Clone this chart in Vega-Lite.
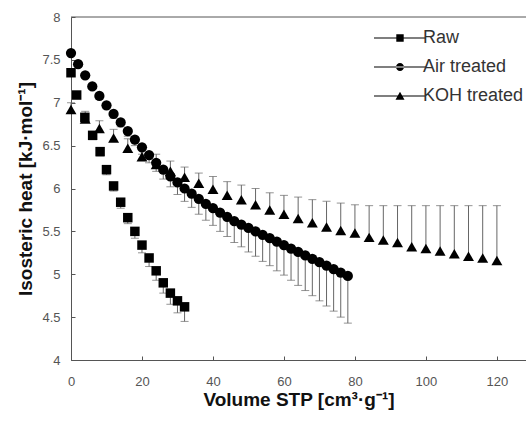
{
  "$schema": "https://vega.github.io/schema/vega-lite/v6.json",
  "width": 455,
  "height": 343,
  "autosize": {"type": "none"},
  "padding": {"left": 71, "top": 17, "right": 0, "bottom": 61},
  "config": {
    "view": {"stroke": null},
    "axis": {
      "grid": false,
      "domainColor": "#555",
      "tickColor": "#555",
      "labelColor": "#555",
      "labelFont": "Liberation Sans",
      "labelFontSize": 13,
      "titleFont": "Liberation Sans",
      "titleFontWeight": "bold",
      "titleColor": "#111",
      "labelFlush": false,
      "labelOverlap": false
    },
    "legend": {
      "labelFont": "Liberation Sans",
      "labelFontSize": 18,
      "labelColor": "#333"
    }
  },
  "datasets": {
    "d": [
      {"s": "Raw", "x": 0, "y": 7.35, "e": 7.32},
      {"s": "Raw", "x": 1.6, "y": 7.09, "e": 7.05},
      {"s": "Raw", "x": 3.9, "y": 6.83, "e": 6.79},
      {"s": "Raw", "x": 6.1, "y": 6.62, "e": 6.57},
      {"s": "Raw", "x": 8.2, "y": 6.43, "e": 6.38},
      {"s": "Raw", "x": 10, "y": 6.22, "e": 6.16},
      {"s": "Raw", "x": 12, "y": 6.03, "e": 5.97},
      {"s": "Raw", "x": 14, "y": 5.84, "e": 5.77},
      {"s": "Raw", "x": 16, "y": 5.66, "e": 5.59},
      {"s": "Raw", "x": 18, "y": 5.50, "e": 5.42},
      {"s": "Raw", "x": 20, "y": 5.34, "e": 5.25},
      {"s": "Raw", "x": 22, "y": 5.19, "e": 5.09},
      {"s": "Raw", "x": 24, "y": 5.04, "e": 4.93},
      {"s": "Raw", "x": 26, "y": 4.90, "e": 4.78},
      {"s": "Raw", "x": 28, "y": 4.78, "e": 4.65},
      {"s": "Raw", "x": 30, "y": 4.69, "e": 4.55},
      {"s": "Raw", "x": 32, "y": 4.62, "e": 4.45},
      {"s": "Air treated", "x": 0, "y": 7.58, "e": 7.56},
      {"s": "Air treated", "x": 2, "y": 7.45, "e": 7.43},
      {"s": "Air treated", "x": 4, "y": 7.32, "e": 7.29},
      {"s": "Air treated", "x": 6, "y": 7.19, "e": 7.16},
      {"s": "Air treated", "x": 8, "y": 7.08, "e": 7.04},
      {"s": "Air treated", "x": 10, "y": 6.97, "e": 6.93},
      {"s": "Air treated", "x": 12, "y": 6.87, "e": 6.82},
      {"s": "Air treated", "x": 14, "y": 6.77, "e": 6.72},
      {"s": "Air treated", "x": 16, "y": 6.67, "e": 6.61},
      {"s": "Air treated", "x": 18, "y": 6.57, "e": 6.50},
      {"s": "Air treated", "x": 20, "y": 6.48, "e": 6.40},
      {"s": "Air treated", "x": 22, "y": 6.39, "e": 6.30},
      {"s": "Air treated", "x": 24, "y": 6.30, "e": 6.20},
      {"s": "Air treated", "x": 26, "y": 6.22, "e": 6.11},
      {"s": "Air treated", "x": 28, "y": 6.14, "e": 6.02},
      {"s": "Air treated", "x": 30, "y": 6.07, "e": 5.93},
      {"s": "Air treated", "x": 32, "y": 6.00, "e": 5.85},
      {"s": "Air treated", "x": 34, "y": 5.94, "e": 5.78},
      {"s": "Air treated", "x": 36, "y": 5.88, "e": 5.70},
      {"s": "Air treated", "x": 38, "y": 5.82, "e": 5.63},
      {"s": "Air treated", "x": 40, "y": 5.77, "e": 5.57},
      {"s": "Air treated", "x": 42, "y": 5.72, "e": 5.50},
      {"s": "Air treated", "x": 44, "y": 5.67, "e": 5.44},
      {"s": "Air treated", "x": 46, "y": 5.62, "e": 5.37},
      {"s": "Air treated", "x": 48, "y": 5.58, "e": 5.32},
      {"s": "Air treated", "x": 50, "y": 5.54, "e": 5.26},
      {"s": "Air treated", "x": 52, "y": 5.50, "e": 5.21},
      {"s": "Air treated", "x": 54, "y": 5.46, "e": 5.15},
      {"s": "Air treated", "x": 56, "y": 5.42, "e": 5.10},
      {"s": "Air treated", "x": 58, "y": 5.38, "e": 5.04},
      {"s": "Air treated", "x": 60, "y": 5.34, "e": 4.99},
      {"s": "Air treated", "x": 62, "y": 5.30, "e": 4.93},
      {"s": "Air treated", "x": 64, "y": 5.26, "e": 4.87},
      {"s": "Air treated", "x": 66, "y": 5.22, "e": 4.81},
      {"s": "Air treated", "x": 68, "y": 5.18, "e": 4.75},
      {"s": "Air treated", "x": 70, "y": 5.14, "e": 4.69},
      {"s": "Air treated", "x": 72, "y": 5.10, "e": 4.63},
      {"s": "Air treated", "x": 74, "y": 5.06, "e": 4.57},
      {"s": "Air treated", "x": 76, "y": 5.02, "e": 4.50},
      {"s": "Air treated", "x": 78, "y": 4.98, "e": 4.43},
      {"s": "KOH treated", "x": 0, "y": 6.92, "e": 7.00},
      {"s": "KOH treated", "x": 4, "y": 6.81, "e": 6.90},
      {"s": "KOH treated", "x": 8, "y": 6.70, "e": 6.79},
      {"s": "KOH treated", "x": 12, "y": 6.59, "e": 6.69},
      {"s": "KOH treated", "x": 16, "y": 6.47, "e": 6.58},
      {"s": "KOH treated", "x": 20, "y": 6.37, "e": 6.48},
      {"s": "KOH treated", "x": 24, "y": 6.28, "e": 6.40},
      {"s": "KOH treated", "x": 28, "y": 6.20, "e": 6.32},
      {"s": "KOH treated", "x": 32, "y": 6.13, "e": 6.25},
      {"s": "KOH treated", "x": 36, "y": 6.06, "e": 6.18},
      {"s": "KOH treated", "x": 40, "y": 5.99, "e": 6.14},
      {"s": "KOH treated", "x": 44, "y": 5.92, "e": 6.08},
      {"s": "KOH treated", "x": 48, "y": 5.87, "e": 6.04},
      {"s": "KOH treated", "x": 52, "y": 5.81, "e": 6.00},
      {"s": "KOH treated", "x": 56, "y": 5.75, "e": 5.95},
      {"s": "KOH treated", "x": 60, "y": 5.70, "e": 5.92},
      {"s": "KOH treated", "x": 64, "y": 5.65, "e": 5.90},
      {"s": "KOH treated", "x": 68, "y": 5.60, "e": 5.87},
      {"s": "KOH treated", "x": 72, "y": 5.55, "e": 5.85},
      {"s": "KOH treated", "x": 76, "y": 5.51, "e": 5.83},
      {"s": "KOH treated", "x": 80, "y": 5.48, "e": 5.81},
      {"s": "KOH treated", "x": 84, "y": 5.43, "e": 5.80},
      {"s": "KOH treated", "x": 88, "y": 5.40, "e": 5.80},
      {"s": "KOH treated", "x": 92, "y": 5.37, "e": 5.80},
      {"s": "KOH treated", "x": 96, "y": 5.32, "e": 5.80},
      {"s": "KOH treated", "x": 100, "y": 5.30, "e": 5.80},
      {"s": "KOH treated", "x": 104, "y": 5.27, "e": 5.80},
      {"s": "KOH treated", "x": 108, "y": 5.24, "e": 5.80},
      {"s": "KOH treated", "x": 112, "y": 5.21, "e": 5.80},
      {"s": "KOH treated", "x": 116, "y": 5.19, "e": 5.80},
      {"s": "KOH treated", "x": 120, "y": 5.16, "e": 5.80}
    ]
  },
  "data": {"name": "d"},
  "layer": [
    {
      "mark": {"type": "rule", "color": "#666", "strokeWidth": 1},
      "encoding": {
        "x": {"field": "x", "type": "quantitative", "scale": {"domain": [0, 128.2], "nice": false},
          "axis": {"values": [0, 20, 40, 60, 80, 100, 120], "format": "d", "tickSize": -4, "labelPadding": 19, "title": "Volume STP [cm³·g⁻¹]", "titleFontSize": 19, "titlePadding": 2}},
        "y": {"field": "y", "type": "quantitative", "scale": {"domain": [4, 8], "nice": false},
          "axis": {"values": [4, 4.5, 5, 5.5, 6, 6.5, 7, 7.5, 8], "format": "~r", "tickSize": -4, "labelPadding": 15, "title": "Isosteric heat [kJ·mol⁻¹]", "titleFontSize": 19, "titlePadding": 6}},
        "y2": {"field": "e"}
      }
    },
    {
      "mark": {"type": "tick", "orient": "horizontal", "color": "#666", "size": 8, "thickness": 1},
      "encoding": {
        "x": {"field": "x", "type": "quantitative", "scale": {"domain": [0, 128.2], "nice": false},
          "axis": {"values": [0, 20, 40, 60, 80, 100, 120], "format": "d", "tickSize": -4, "labelPadding": 19, "title": "Volume STP [cm³·g⁻¹]", "titleFontSize": 19, "titlePadding": 2}},
        "y": {"field": "e", "type": "quantitative", "scale": {"domain": [4, 8], "nice": false},
          "axis": {"values": [4, 4.5, 5, 5.5, 6, 6.5, 7, 7.5, 8], "format": "~r", "tickSize": -4, "labelPadding": 15, "title": "Isosteric heat [kJ·mol⁻¹]", "titleFontSize": 19, "titlePadding": 6}}
      }
    },
    {
      "mark": {"type": "point", "filled": true, "color": "black", "opacity": 1, "strokeWidth": 0},
      "encoding": {
        "x": {"field": "x", "type": "quantitative", "scale": {"domain": [0, 128.2], "nice": false},
          "axis": {"values": [0, 20, 40, 60, 80, 100, 120], "format": "d", "tickSize": -4, "labelPadding": 19, "title": "Volume STP [cm³·g⁻¹]", "titleFontSize": 19, "titlePadding": 2}},
        "y": {"field": "y", "type": "quantitative", "scale": {"domain": [4, 8], "nice": false},
          "axis": {"values": [4, 4.5, 5, 5.5, 6, 6.5, 7, 7.5, 8], "format": "~r", "tickSize": -4, "labelPadding": 15, "title": "Isosteric heat [kJ·mol⁻¹]", "titleFontSize": 19, "titlePadding": 6}},
        "shape": {
          "field": "s", "type": "nominal",
          "scale": {"domain": ["Raw", "Air treated", "KOH treated"], "range": ["square", "circle", "triangle-up"]},
          "legend": null
        },
        "size": {
          "field": "s", "type": "nominal",
          "scale": {"domain": ["Raw", "Air treated", "KOH treated"], "range": [90, 120, 140]},
          "legend": null
        }
      }
    },
    {
      "mark": {"type": "point", "filled": true, "color": "black", "opacity": 0},
      "encoding": {
        "x": {"field": "x", "type": "quantitative", "scale": {"domain": [0, 128.2], "nice": false},
          "axis": {"values": [0, 20, 40, 60, 80, 100, 120], "format": "d", "tickSize": -4, "labelPadding": 19, "title": "Volume STP [cm³·g⁻¹]", "titleFontSize": 19, "titlePadding": 2}},
        "y": {"field": "y", "type": "quantitative", "scale": {"domain": [4, 8], "nice": false},
          "axis": {"values": [4, 4.5, 5, 5.5, 6, 6.5, 7, 7.5, 8], "format": "~r", "tickSize": -4, "labelPadding": 15, "title": "Isosteric heat [kJ·mol⁻¹]", "titleFontSize": 19, "titlePadding": 6}},
        "shape": {
          "field": "s", "type": "nominal",
          "scale": {
            "domain": ["Raw", "Air treated", "KOH treated"],
            "range": [
              "M-9.4,-0.12H1V0.12H-9.4Z M-4.94,-0.74H-3.46V0.74H-4.94Z",
              "M-9.4,-0.12H1V0.12H-9.4Z M-5,0A0.8,0.8 0 1,0 -3.4,0A0.8,0.8 0 1,0 -5,0Z",
              "M-9.4,-0.12H1V0.12H-9.4Z M-4.2,-0.85L-3.3,0.75H-5.1Z"
            ]
          },
          "legend": {
            "title": null,
            "orient": "none",
            "legendX": 341,
            "legendY": 12,
            "padding": 0,
            "symbolSize": 100,
            "symbolOpacity": 1,
            "symbolStrokeWidth": 0,
            "symbolFillColor": "black",
            "labelOffset": -7,
            "rowPadding": 11
          }
        }
      }
    },
    {
      "data": {"values": [{"top": 8}]},
      "mark": {"type": "rule", "color": "#555", "strokeWidth": 1},
      "encoding": {
        "y": {"field": "top", "type": "quantitative", "scale": {"domain": [4, 8], "nice": false},
          "axis": {"values": [4, 4.5, 5, 5.5, 6, 6.5, 7, 7.5, 8], "format": "~r", "tickSize": -4, "labelPadding": 15, "title": "Isosteric heat [kJ·mol⁻¹]", "titleFontSize": 19, "titlePadding": 6}}
      }
    }
  ],
  "resolve": {"scale": {"shape": "independent", "size": "independent"}}
}
